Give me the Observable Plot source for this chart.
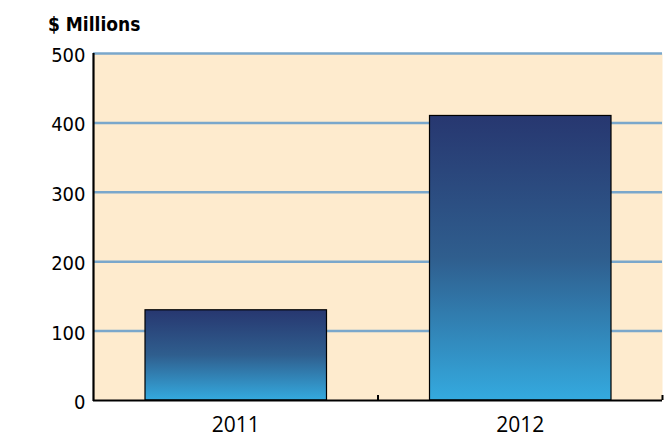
<!DOCTYPE html>
<html>
<head>
<meta charset="utf-8">
<script src="https://cdn.jsdelivr.net/npm/d3@7"></script>
<script src="https://cdn.jsdelivr.net/npm/@observablehq/plot@0.6"></script>
<style>
  html, body { margin: 0; padding: 0; background: #ffffff; }
  #wrap { position: relative; width: 670px; height: 437px; }
  #title { position: absolute; left: 48px; top: 15px; font-family: "DejaVu Sans Condensed", "DejaVu Sans", sans-serif; font-weight: bold; font-size: 19px; line-height: 19px; color: #000; white-space: nowrap; }
  #chart { position: absolute; left: 0; top: 0; }
</style>
</head>
<body>
<div id="wrap">
  <div id="chart"></div>
  <div id="title">$ Millions</div>
</div>
<script>
const categories = ["2011", "2012"];
const values = [130, 410];
const yTicks = [0, 100, 200, 300, 400, 500];
const gridTicks = [100, 200, 300, 400, 500];

const data = categories.map((c, i) => ({year: c, index: i, value: values[i]}));
const bounds = d3.range(1, categories.length + 1);
const centers = categories.map((c, i) => i + 0.5);

const defs = () => {
  const d = d3.create("svg:defs");
  const g = d.append("linearGradient").attr("id", "barGrad").attr("x1", 0).attr("y1", 0).attr("x2", 0).attr("y2", 1);
  g.append("stop").attr("offset", "0%").attr("stop-color", "#273770");
  g.append("stop").attr("offset", "50%").attr("stop-color", "#2f5e8e");
  g.append("stop").attr("offset", "100%").attr("stop-color", "#34aadf");
  return d.node();
};

const chart = Plot.plot({
  width: 670,
  height: 437,
  marginLeft: 93,
  marginRight: 8,
  marginTop: 53,
  marginBottom: 37,
  style: {fontFamily: "'DejaVu Sans Condensed', 'DejaVu Sans', sans-serif", fontSize: "20px", color: "#000", background: "transparent"},
  x: {domain: [0, categories.length], axis: null, label: null},
  y: {domain: [0, 500], axis: null, label: null},
  marks: [
    defs,
    Plot.frame({fill: "#feebce", stroke: null}),
    Plot.gridY(gridTicks, {stroke: "#7aa7cb", strokeOpacity: 1, strokeWidth: 2.5}),
    Plot.rectY(data, {x1: "index", x2: d => d.index + 1, y: "value", insetLeft: 52, insetRight: 51, fill: "url(#barGrad)", stroke: "#000", strokeWidth: 1.2}),
    Plot.ruleY([0], {stroke: "#000", strokeWidth: 2.2}),
    Plot.ruleX([0], {stroke: "#000", strokeWidth: 2.2, insetBottom: -1}),
    Plot.axisX(bounds, {tickSize: -5, tickFormat: () => "", strokeWidth: 2, stroke: "#000", label: null}),
    Plot.axisX(centers, {tickSize: 0, tickPadding: 17, tickFormat: d => categories[Math.floor(d)], fontFamily: "'Open Sans', sans-serif", fontSize: 21, fill: "#000", label: null}),
    Plot.axisY(yTicks, {tickSize: 0, tickPadding: 8, dy: 2, fill: "#000", label: null})
  ]
});
document.getElementById("chart").appendChild(chart);
</script>
</body>
</html>
